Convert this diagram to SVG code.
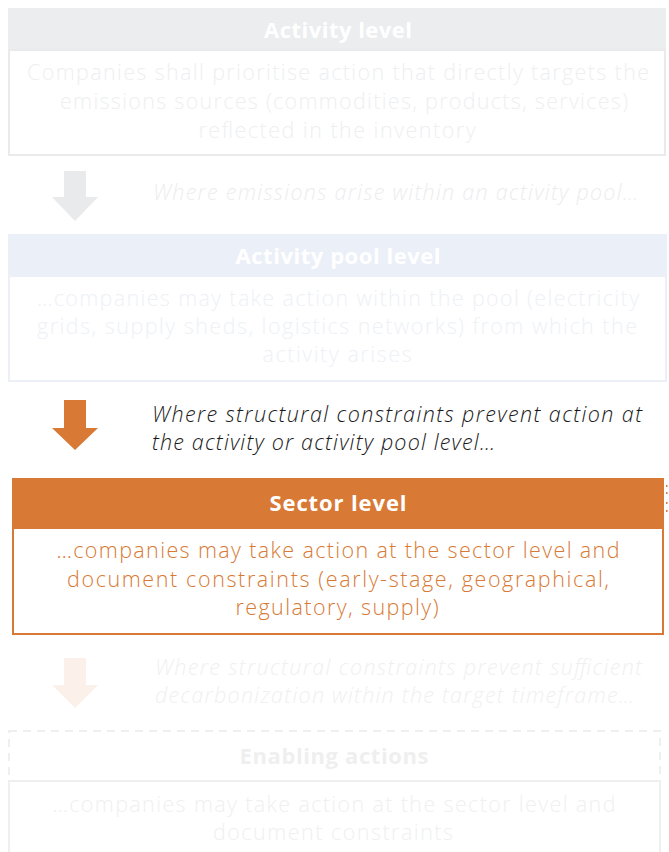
<svg xmlns="http://www.w3.org/2000/svg" width="669" height="852" viewBox="0 0 669 852">
<style>
text{font-family:"Open Sans","Lato","Liberation Sans",sans-serif;}
.hd{font-size:22px;font-weight:700;text-anchor:middle;}
.bd{font-size:21.5px;font-weight:300;text-anchor:middle;}
.cap{font-size:21.5px;font-weight:300;font-style:italic;}
</style>
<rect width="669" height="852" fill="#ffffff"/>
<g id="connectors">
<polygon id="arrow1" points="64,171 86,171 86,197 98,197 75,221 52,197 64,197" fill="#E9EAEB"/>
<polygon id="arrow2" points="64,400 86,400 86,428 98,428 75,450 52,428 64,428" fill="#D87A35"/>
<polygon id="arrow3" points="64,658 86,658 86,685 98,685 75,708 52,685 64,685" fill="#FBF1EA"/>
</g>
<g id="activity-level">
<rect x="8" y="8" width="658" height="42" fill="#ECEDEF"/>
<rect x="9" y="50" width="656" height="105" fill="#ffffff" stroke="#E9EAEC" stroke-width="2"/>
<text class="hd" x="338" y="37.5" fill="#ffffff" textLength="148">Activity level</text>
<text class="bd" x="338" y="79.5" fill="#EEEFF1" textLength="622">Companies shall prioritise action that directly targets the</text>
<text class="bd" x="344" y="108.5" fill="#EEEFF1" textLength="568">emissions sources (commodities, products, services)</text>
<text class="bd" x="337" y="137.5" fill="#EEEFF1" textLength="277">reflected in the inventory</text>
</g>
<g id="caption1">
<text class="cap" x="153" y="199.5" fill="#EDEDEE" textLength="485">Where emissions arise within an activity pool…</text>
</g>
<g id="activity-pool-level">
<rect x="8" y="234" width="659" height="42" fill="#EBF0F8"/>
<rect x="9" y="276" width="657" height="105" fill="#ffffff" stroke="#ECF0F6" stroke-width="2"/>
<text class="hd" x="338" y="263.5" fill="#ffffff" textLength="205">Activity pool level</text>
<text class="bd" x="338" y="305.5" fill="#EEF1F6" textLength="602">…companies may take action within the pool (electricity</text>
<text class="bd" x="337" y="333.5" fill="#EEF1F6" textLength="600">grids, supply sheds, logistics networks) from which the</text>
<text class="bd" x="337" y="361.5" fill="#EEF1F6" textLength="149">activity arises</text>
</g>
<g id="caption2">
<text class="cap" x="152" y="421.5" fill="#1A1A1A" textLength="490">Where structural constraints prevent action at</text>
<text class="cap" x="152" y="449.5" fill="#1A1A1A" textLength="343">the activity or activity pool level…</text>
</g>
<g id="sector-level">
<rect x="12" y="478" width="652" height="50" fill="#D87A35"/>
<rect x="13" y="528" width="650" height="106" fill="#ffffff" stroke="#D87A35" stroke-width="2"/>
<text class="hd" x="338" y="510.5" fill="#ffffff" textLength="137">Sector level</text>
<text class="bd" x="338" y="557.5" fill="#D87A35" textLength="563">…companies may take action at the sector level and</text>
<text class="bd" x="338" y="586.5" fill="#D87A35" textLength="542">document constraints (early-stage, geographical,</text>
<text class="bd" x="337" y="614.5" fill="#D87A35" textLength="203">regulatory, supply)</text>
<g fill="#D87A35">
<rect x="666" y="485" width="1.5" height="2"/>
<rect x="666" y="492" width="1.5" height="2"/>
<rect x="666" y="502" width="1.5" height="2"/>
<rect x="666" y="510" width="1.5" height="2"/>
</g>
</g>
<g id="caption3">
<text class="cap" x="155" y="674.5" fill="#F0F0F1" textLength="487">Where structural constraints prevent sufficient</text>
<text class="cap" x="155" y="702.5" fill="#F0F0F1" textLength="479">decarbonization within the target timeframe…</text>
</g>
<g id="enabling-actions">
<rect x="9" y="731" width="651" height="50" fill="none" stroke="#EFEFF0" stroke-width="2" stroke-dasharray="8,6"/>
<rect x="9" y="781" width="651" height="80" fill="#ffffff" stroke="#EFEFF0" stroke-width="2"/>
<text class="hd" x="334" y="763.5" fill="#EFEFF0" textLength="189">Enabling actions</text>
<text class="bd" x="334" y="811.5" fill="#F0F0F1" textLength="563">…companies may take action at the sector level and</text>
<text class="bd" x="333" y="839.5" fill="#F0F0F1" textLength="240">document constraints</text>
</g>
</svg>
